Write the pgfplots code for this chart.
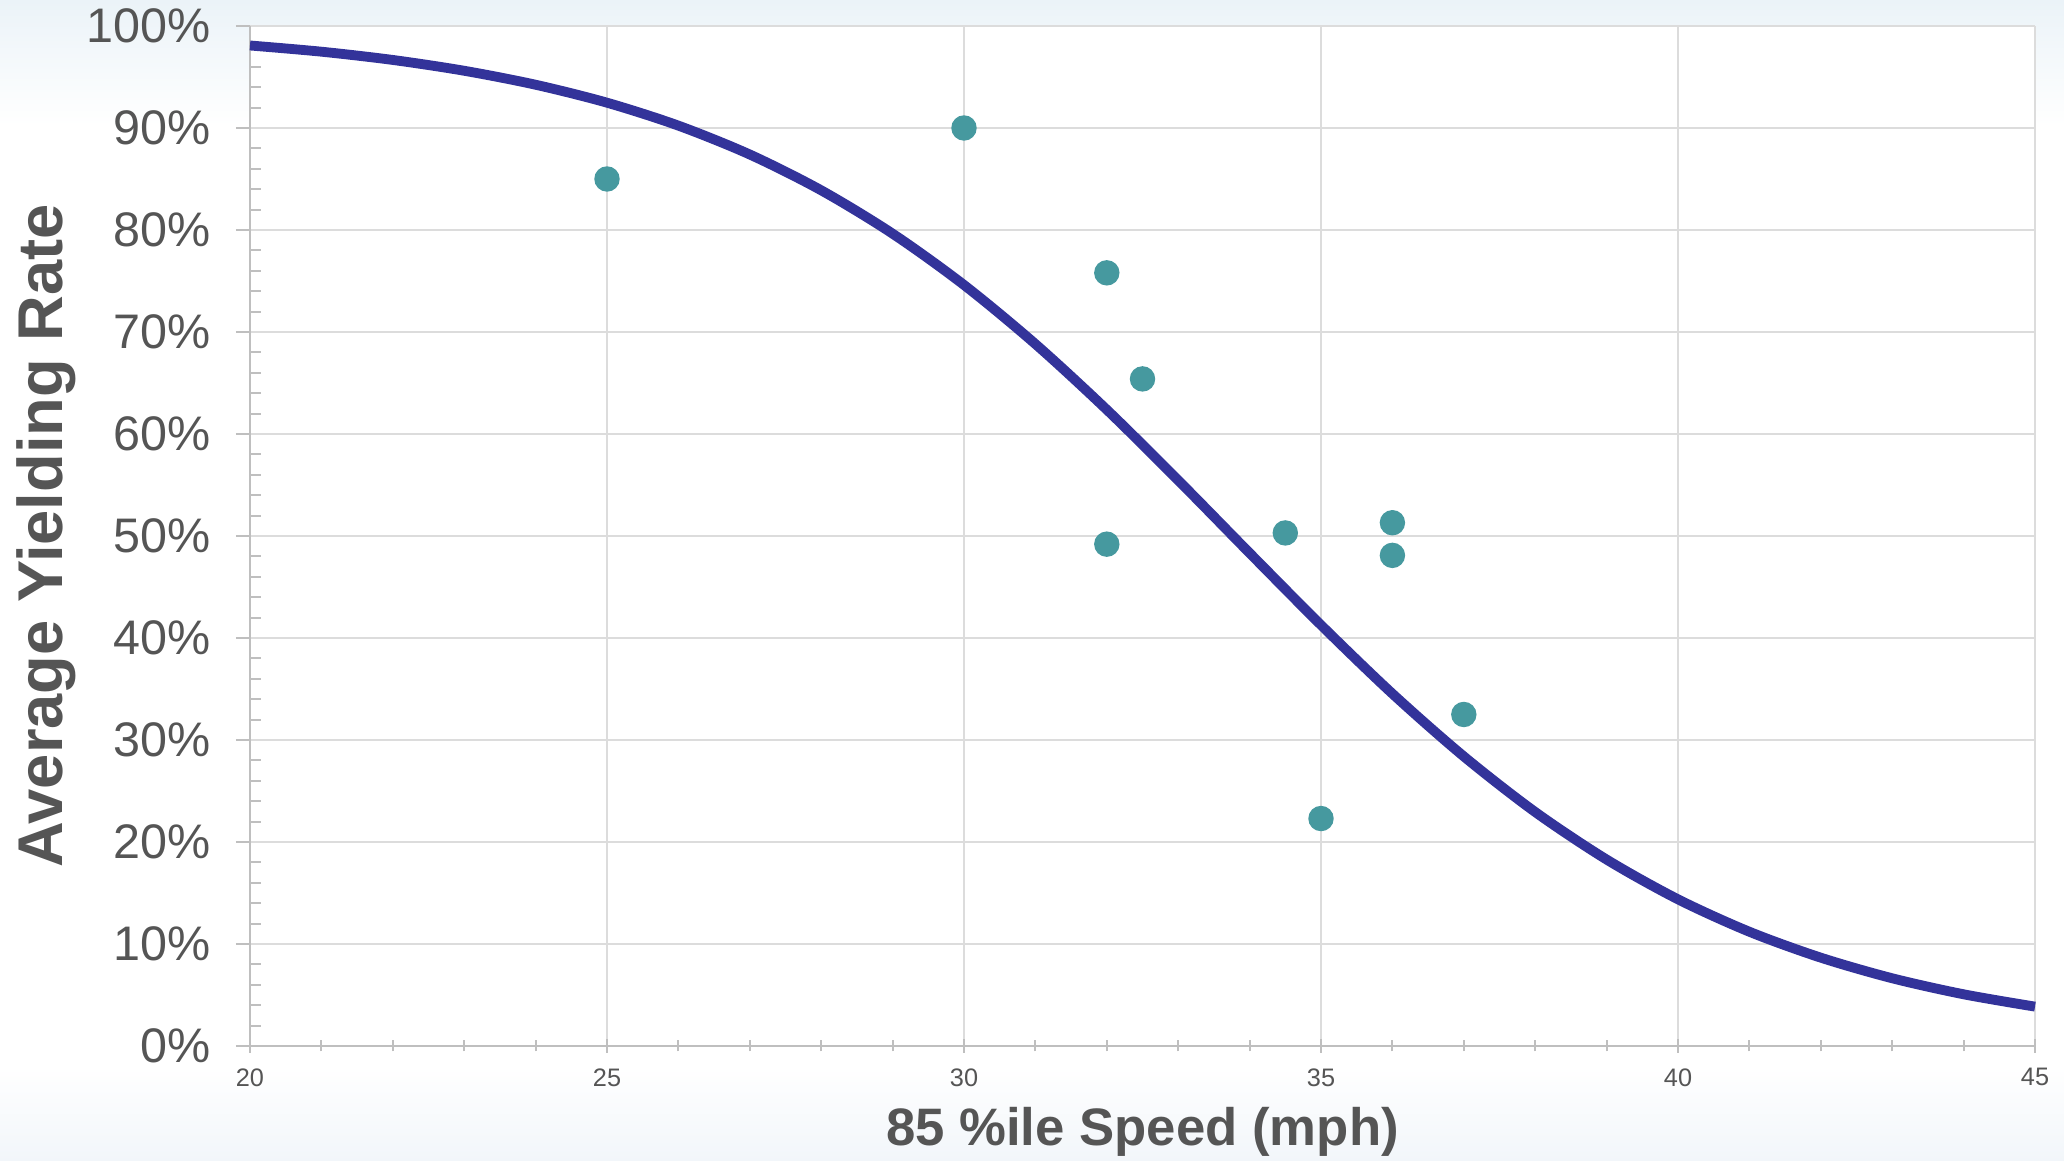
\documentclass[border=0pt]{standalone}
\usepackage{fontspec}
\setmainfont{Liberation Sans}
\usepackage{pgfplots}
\pgfplotsset{compat=1.18}

\definecolor{txtgray}{HTML}{555555}
\definecolor{axisgray}{HTML}{BFBFBF}
\definecolor{gridgray}{HTML}{DCDCDC}
\definecolor{curveblue}{HTML}{33339A}
\definecolor{dotteal}{HTML}{46999F}
\definecolor{bgtop}{HTML}{EBF3F8}
\definecolor{bgbot}{HTML}{F2F6FA}

\begin{document}
\begin{tikzpicture}
% background and fixed bounding box
\useasboundingbox (-25mm,-11.5mm) rectangle (181.4mm,104.6mm);
\shade[top color=bgtop, bottom color=white] (-25mm,92mm) rectangle (181.4mm,104.6mm);
\shade[top color=white, bottom color=bgbot] (-25mm,-11.5mm) rectangle (181.4mm,-2mm);
\begin{axis}[
    at={(0,0)}, anchor=south west,
    scale only axis,
    width=178.5mm, height=102mm,
    xmin=20, xmax=45, ymin=0, ymax=100,
    xtick={20,25,...,45},
    ytick={0,10,...,100},
    minor x tick num=4,
    minor y tick num=4,
    axis x line*=bottom,
    axis y line*=left,
    axis line style={axisgray, line width=0.8pt, -},
    axis background/.style={fill=white},
    grid=major,
    major grid style={gridgray, line width=0.6pt},
    tick style={axisgray, line width=0.6pt},
    major tick length=1.4mm,
    minor tick length=1.1mm,
    xtick align=center,
    ytick align=outside,
    minor y tick style={xshift=1.1mm},
    /pgf/number format/assume math mode=true,
    yticklabel={\pgfmathprintnumber{\tick}\%},
    y tick label style={font=\fontsize{13.8}{14}\selectfont, text=txtgray, xshift=-1.3mm},
    x tick label style={font=\fontsize{7.2}{8}\selectfont, text=txtgray, yshift=-0.3mm},
    xlabel={85 \%ile Speed (mph)},
    ylabel={Average Yielding Rate},
    xlabel style={font=\fontsize{15}{16}\selectfont\bfseries, text=txtgray,
        at={(axis description cs:0.5,0)}, anchor=center, yshift=-8.6mm},
    ylabel style={font=\fontsize{18}{19}\selectfont\bfseries, text=txtgray,
        at={(axis description cs:0,0.5)}, anchor=center, yshift=20.4mm},
    clip=false,
]
% fitted curve
\addplot[curveblue, line width=2.8pt, smooth, no marks] coordinates {
 (20,98.09) (21,97.48) (22,96.67) (23,95.61) (24,94.24) (25,92.48)
 (26,90.23) (27,87.40) (28,83.89) (29,79.64) (30,74.61) (31,68.82)
 (32,62.38) (33,55.46) (34,48.33) (35,41.27) (36,34.54) (37,28.39)
 (38,22.94) (39,18.28) (40,14.38) (41,11.20) (42,8.66) (43,6.64)
 (44,5.07) (45,3.86)
};
% observed sites
\addplot[only marks, color=dotteal, mark=*, mark size=1.2mm, mark options={fill=dotteal, draw=dotteal}] coordinates {
 (25,85.0) (30,90.0) (32,75.8) (32.5,65.4) (32,49.2) (34.5,50.3)
 (36,51.3) (36,48.1) (37,32.5) (35,22.3)
};
\end{axis}
\end{tikzpicture}
\end{document}
